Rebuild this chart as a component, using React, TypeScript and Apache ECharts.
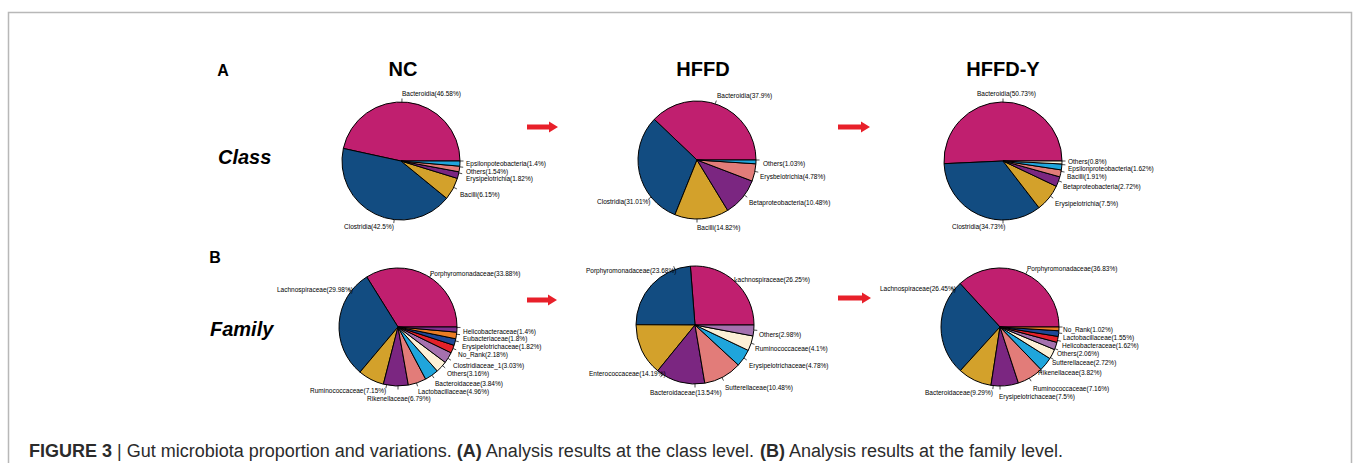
import React, { useEffect, useRef } from "react";
import * as echarts from "echarts";

// Class-level composition (%)
const ncClassNames = ["Bacteroidia", "Clostridia", "Bacilli", "Erysipelotrichia", "Others", "Epsilonpoteobacteria"];
const ncClassValues = [46.58, 42.5, 6.15, 1.82, 1.54, 1.4];

const hffdClassNames = ["Bacteroidia", "Clostridia", "Bacilli", "Betaproteobacteria", "Erysbelotrichia", "Others"];
const hffdClassValues = [37.9, 31.01, 14.82, 10.48, 4.78, 1.03];

const hffdyClassNames = ["Bacteroidia", "Clostridia", "Erysipelotrichia", "Betaproteobacteria", "Bacilli", "Epsilonproteobacteria", "Others"];
const hffdyClassValues = [50.73, 34.73, 7.5, 2.72, 1.91, 1.62, 0.8];

// Family-level composition (%)
const ncFamilyNames = [
  "Porphyromonadaceae", "Lachnospiraceae", "Ruminococcaceae", "Rikenellaceae", "Lactobacillaceae",
  "Bacteroidaceae", "Others", "Clostridiaceae_1", "No_Rank", "Erysipelotrichaceae", "Eubacteriaceae", "Helicobacteraceae",
];
const ncFamilyValues = [33.88, 29.98, 7.15, 6.79, 4.96, 3.84, 3.16, 3.03, 2.18, 1.82, 1.8, 1.4];

const hffdFamilyNames = [
  "Lachnospiraceae", "Porphyromonadaceae", "Enterococcaceae", "Bacteroidaceae",
  "Sutterellaceae", "Erysipelotrichaceae", "Ruminococcaceae", "Others",
];
const hffdFamilyValues = [26.25, 23.68, 14.19, 13.54, 10.48, 4.78, 4.1, 2.98];

const hffdyFamilyNames = [
  "Porphyromonadaceae", "Lachnospiraceae", "Bacteroidaceae", "Erysipelotrichaceae", "Ruminococcaceae",
  "Rikenellaceae", "Sutterellaceae", "Others", "Helicobacteraceae", "Lactobacillaceae", "No_Rank",
];
const hffdyFamilyValues = [36.83, 26.45, 9.29, 7.5, 7.16, 3.82, 2.72, 2.06, 1.62, 1.55, 1.02];

const groupTitles = ["NC", "HFFD", "HFFD-Y"];
const rowTitles = ["Class", "Family"];
const panelLetters = ["A", "B"];

const palette = [
  "#C01F6F", "#124C81", "#D3A12B", "#7B2681", "#E27C79", "#1FA5DC",
  "#FDF0D6", "#A571AE", "#E3212A", "#1E4896", "#EA7D25", "#7E2F8E",
];

const FONT = "'Liberation Sans', Arial, Helvetica, sans-serif";
const RADIUS = 59;

// Label anchors (left edge x, middle y) for each slice label, in slice order.
const labelSpots: number[][][] = [
  [[402, 93], [344, 226], [460, 194], [466, 178], [466, 171], [466, 163]],
  [[717, 95], [597, 201], [697, 227], [749, 202], [760, 176], [763, 163]],
  [[977, 93], [952, 226], [1055, 203], [1063, 186], [1067, 176], [1068, 168.5], [1068, 161]],
  [[430, 273], [277, 289], [310, 390], [367, 398], [418, 391], [435, 383], [447, 373], [453, 365], [458, 354], [462, 346], [463, 338.5], [463, 331]],
  [[734, 279], [586, 270], [589, 373], [650, 392], [725, 387], [749, 365], [755, 348], [759, 334]],
  [[1027, 268], [880, 288], [925, 392], [999, 396], [1033, 388], [1038, 372], [1052, 362], [1057, 353], [1062, 345], [1063, 337], [1063, 329]],
];

const clamp = (v: number, lo: number, hi: number) => Math.max(lo, Math.min(hi, v));

function pieSeries(names: string[], values: number[], center: [number, number], index: number) {
  const [cx, cy] = center;
  return {
    type: "pie",
    center,
    radius: RADIUS,
    startAngle: 0,
    clockwise: false,
    silent: true,
    avoidLabelOverlap: true,
    minShowLabelAngle: 0,
    data: names.map((n, i) => ({ name: n, value: values[i], itemStyle: { color: palette[i] } })),
    itemStyle: { borderColor: "#000", borderWidth: 1 },
    label: {
      show: true,
      position: "outside",
      formatter: (p: any) => `${p.name}(${p.value}%)`,
      fontSize: 6.5,
      fontFamily: FONT,
      color: "#000",
      distanceToLabelLine: 2,
    },
    labelLine: {
      show: true,
      length: 3,
      length2: 2,
      smooth: false,
      lineStyle: { color: "#000", width: 0.7 },
    },
    // Place each label at its anchor and draw a short tick on the rim facing it.
    labelLayout: (p: any) => {
      const spot = labelSpots[index] && labelSpots[index][p.dataIndex];
      if (!spot) return {};
      const w = p.labelRect.width;
      const h = p.labelRect.height;
      const left = spot[0];
      const top = spot[1] - h / 2;
      const nx = clamp(cx, left, left + w);
      const ny = clamp(cy, top, top + h);
      const a = Math.atan2(ny - cy, nx - cx);
      const p0 = [cx + RADIUS * Math.cos(a), cy + RADIUS * Math.sin(a)];
      const p1 = [cx + (RADIUS + 3.5) * Math.cos(a), cy + (RADIUS + 3.5) * Math.sin(a)];
      return { x: left, y: spot[1], align: "left", verticalAlign: "middle", labelLinePoints: [p0, p1] };
    },
    emphasis: { disabled: true },
  };
}

function arrow(x0: number, x1: number, y: number) {
  const head = 9;
  return {
    type: "polygon",
    shape: {
      points: [
        [x0, y - 2.5], [x1 - head, y - 2.5], [x1 - head, y - 5.5], [x1, y],
        [x1 - head, y + 5.5], [x1 - head, y + 2.5], [x0, y + 2.5],
      ],
    },
    style: { fill: "#E8202A" },
  };
}

export default function App() {
  const ref = useRef<HTMLDivElement>(null);

  useEffect(() => {
    if (!ref.current) return;
    const chart = echarts.init(ref.current, null, { renderer: "svg" });

    const headStyle = { fontFamily: FONT, fontWeight: "bold", fill: "#000" };

    chart.setOption({
      animation: false,
      backgroundColor: "#fff",
      series: [
        pieSeries(ncClassNames, ncClassValues, [401, 161], 0),
        pieSeries(hffdClassNames, hffdClassValues, [697, 160], 1),
        pieSeries(hffdyClassNames, hffdyClassValues, [1003, 161], 2),
        pieSeries(ncFamilyNames, ncFamilyValues, [398, 327], 3),
        pieSeries(hffdFamilyNames, hffdFamilyValues, [695, 325], 4),
        pieSeries(hffdyFamilyNames, hffdyFamilyValues, [1000, 327], 5),
      ],
      graphic: [
        {
          type: "rect",
          shape: { x: 8.5, y: 12.5, width: 1343, height: 470 },
          style: { fill: "none", stroke: "#b8b8b8", lineWidth: 1.5 },
        },
        { type: "text", x: 223, y: 70, style: { ...headStyle, text: panelLetters[0], fontSize: 16, align: "center", verticalAlign: "middle" } },
        { type: "text", x: 215, y: 257, style: { ...headStyle, text: panelLetters[1], fontSize: 16, align: "center", verticalAlign: "middle" } },
        { type: "text", x: 403, y: 69, style: { ...headStyle, text: groupTitles[0], fontSize: 20, align: "center", verticalAlign: "middle" } },
        { type: "text", x: 703, y: 69, style: { ...headStyle, text: groupTitles[1], fontSize: 20, align: "center", verticalAlign: "middle" } },
        { type: "text", x: 1003, y: 69, style: { ...headStyle, text: groupTitles[2], fontSize: 20, align: "center", verticalAlign: "middle" } },
        { type: "text", x: 218, y: 157, style: { ...headStyle, text: rowTitles[0], fontSize: 20, fontStyle: "italic", align: "left", verticalAlign: "middle" } },
        { type: "text", x: 210, y: 329, style: { ...headStyle, text: rowTitles[1], fontSize: 20, fontStyle: "italic", align: "left", verticalAlign: "middle" } },
        arrow(527, 558, 127),
        arrow(838, 870, 127),
        arrow(527, 557, 300),
        arrow(838, 871, 298),
        {
          type: "text",
          x: 29,
          y: 451,
          style: {
            text:
              "{b|FIGURE 3} | Gut microbiota proportion and variations. {b|(A)} Analysis results at the class level. {b|(B)} Analysis results at the family level.",
            fontFamily: FONT,
            fontSize: 18,
            fill: "#2b2b2b",
            verticalAlign: "middle",
            rich: {
              b: { fontFamily: FONT, fontSize: 18, fontWeight: "bold", fill: "#2b2b2b" },
            },
          },
        },
      ],
    });

    return () => chart.dispose();
  }, []);

  return (
    <div
      ref={ref}
      style={{ position: "fixed", left: 0, top: 0, width: 1354, height: 463, background: "#fff" }}
    />
  );
}
